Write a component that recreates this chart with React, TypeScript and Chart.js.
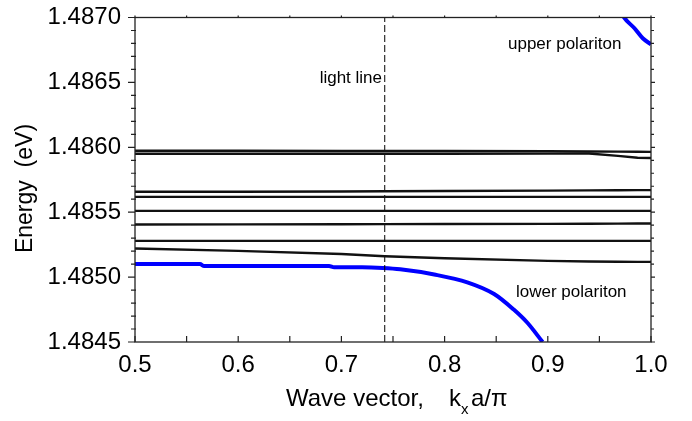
import React, { useEffect, useRef } from "react";
import { Chart, registerables } from "chart.js";

Chart.register(...registerables);

// ---- data ----
const kLevels = [0.5, 0.6, 0.7, 0.742, 0.8, 0.9, 0.94, 0.968, 0.987, 1.0];
const level1 = [1.485973, 1.485973, 1.485972, 1.485972, 1.485971, 1.48597, 1.485968, 1.485967, 1.485966, 1.485965];
const level2 = [1.48595, 1.48595, 1.48595, 1.48595, 1.48595, 1.485951, 1.485952, 1.485934, 1.485919, 1.485917];
const level3 = [1.485657, 1.485658, 1.48566, 1.485661, 1.485663, 1.485666, 1.485668, 1.485669, 1.48567, 1.48567];
const level4 = [1.485618, 1.485618, 1.485618, 1.485618, 1.485618, 1.485618, 1.485618, 1.485618, 1.485618, 1.485618];
const level5 = [1.48551, 1.48551, 1.48551, 1.48551, 1.48551, 1.48551, 1.48551, 1.48551, 1.48551, 1.48551];
const level6 = [1.485405, 1.485406, 1.485407, 1.485408, 1.485409, 1.48541, 1.485411, 1.485412, 1.485413, 1.485413];
const level7 = [1.485279, 1.485279, 1.485279, 1.485279, 1.485279, 1.485279, 1.485279, 1.485279, 1.485279, 1.485279];
const level8 = [1.48522, 1.485202, 1.485178, 1.485161, 1.485145, 1.485125, 1.48512, 1.485118, 1.485117, 1.485117];

const kLower = [0.5, 0.563, 0.567, 0.688, 0.693, 0.72, 0.74, 0.757, 0.79, 0.822, 0.848, 0.867, 0.88, 0.895];
const eLower = [1.4851, 1.4851, 1.485085, 1.485085, 1.485075, 1.485075, 1.48507, 1.48506, 1.48502, 1.48496, 1.48487, 1.48475, 1.48465, 1.4845];

const kUpper = [0.966, 0.974, 0.984, 0.992, 1.0];
const eUpper = [1.48712, 1.487, 1.486917, 1.48684, 1.486793];

const lightLineK = 0.742;
const yRange = [1.4845, 1.487];
const xRange = [0.5, 1.0];

const FONT = "'Liberation Sans', Arial, sans-serif";

const pts = (xs: number[], ys: number[]) => xs.map((x, i) => ({ x, y: ys[i] }));

const decor = {
  id: "decor",
  afterDraw(chart: any) {
    const { ctx, chartArea: a, scales } = chart;
    const xs = scales.x;
    const ys = scales.y;
    ctx.save();
    // frame
    ctx.strokeStyle = "#222";
    ctx.lineWidth = 1.3;
    ctx.strokeRect(a.left, a.top, a.right - a.left, a.bottom - a.top);
    ctx.lineWidth = 1.2;
    // y ticks (every 0.0001)
    for (let i = 0; i <= 25; i++) {
      const v = yRange[0] + i * 0.0001;
      const y = ys.getPixelForValue(v);
      const major = i % 5 === 0;
      ctx.beginPath();
      if (major) {
        ctx.moveTo(a.left - 7, y);
        ctx.lineTo(a.left, y);
      } else {
        ctx.moveTo(a.left - 4, y);
        ctx.lineTo(a.left + 1, y);
      }
      ctx.moveTo(a.right, y);
      ctx.lineTo(a.right + (major ? 4 : 3), y);
      ctx.stroke();
    }
    // x ticks (every 0.05)
    for (let i = 0; i <= 10; i++) {
      const v = xRange[0] + i * 0.05;
      const x = xs.getPixelForValue(v);
      ctx.beginPath();
      ctx.moveTo(x, a.bottom);
      ctx.lineTo(x, a.bottom - 6);
      ctx.moveTo(x, a.top);
      ctx.lineTo(x, a.top - 2);
      ctx.stroke();
    }
    // titles
    ctx.fillStyle = "#000";
    ctx.textBaseline = "alphabetic";
    ctx.save();
    ctx.translate(32, 188.5);
    ctx.rotate(-Math.PI / 2);
    ctx.textAlign = "center";
    ctx.font = `23px ${FONT}`;
    ctx.fillText("Energy  (eV)", 0, 0);
    ctx.restore();

    ctx.textAlign = "left";
    ctx.font = `24px ${FONT}`;
    ctx.fillText("Wave vector,", 286, 406);
    ctx.fillText("k", 449, 406);
    ctx.font = `15px ${FONT}`;
    ctx.fillText("x", 461, 414);
    ctx.font = `24px ${FONT}`;
    ctx.fillText("a/\u03c0", 471, 406);

    // annotations
    ctx.font = `17px ${FONT}`;
    ctx.textBaseline = "middle";
    ctx.textAlign = "right";
    ctx.fillText("light line", 382, 78);
    ctx.textAlign = "left";
    ctx.fillText("upper polariton", 508, 44);
    ctx.fillText("lower polariton", 516, 292);
    ctx.restore();
  },
};

export default function App() {
  const ref = useRef<HTMLCanvasElement | null>(null);
  useEffect(() => {
    if (!ref.current) return;
    const black = (d: number[]) => ({
      data: pts(kLevels, d),
      borderColor: "#111",
      borderWidth: 2.4,
      pointRadius: 0,
      showLine: true,
      tension: 0,
    });
    const chart = new Chart(ref.current, {
      type: "scatter",
      data: {
        datasets: [
          black(level1),
          black(level2),
          black(level3),
          black(level4),
          black(level5),
          black(level6),
          black(level7),
          black(level8),
          {
            data: pts([lightLineK, lightLineK], yRange),
            borderColor: "#000",
            borderWidth: 1,
            borderDash: [7, 3],
            pointRadius: 0,
            showLine: true,
          },
          {
            data: pts(kLower, eLower),
            borderColor: "#0000ff",
            borderWidth: 4,
            pointRadius: 0,
            showLine: true,
            cubicInterpolationMode: "monotone",
          },
          {
            data: pts(kUpper, eUpper),
            borderColor: "#0000ff",
            borderWidth: 4,
            pointRadius: 0,
            showLine: true,
            cubicInterpolationMode: "monotone",
          },
        ] as any,
      },
      options: {
        responsive: false,
        animation: false,
        events: [],
        layout: { padding: { left: 0, top: 17.5, right: 41, bottom: 0 } },
        plugins: { legend: { display: false }, tooltip: { enabled: false } },
        scales: {
          x: {
            type: "linear",
            min: xRange[0],
            max: xRange[1],
            grid: { display: false },
            border: { display: false },
            ticks: {
              stepSize: 0.1,
              padding: 1,
              color: "#000",
              font: { family: FONT, size: 24 },
              callback: (v: any) => Number(v).toFixed(1),
            },
            afterFit: (s: any) => {
              s.height = 79;
              s.paddingLeft = 0;
              s.paddingRight = 0;
            },
          },
          y: {
            type: "linear",
            min: yRange[0],
            max: yRange[1],
            grid: { display: false },
            border: { display: false },
            ticks: {
              stepSize: 0.0005,
              padding: 6,
              color: "#000",
              font: { family: FONT, size: 24 },
              callback: (v: any) => Number(v).toFixed(4),
            },
            afterFit: (s: any) => {
              s.width = 135;
              s.paddingTop = 0;
              s.paddingBottom = 0;
            },
          },
        },
      } as any,
      plugins: [decor],
    });
    return () => chart.destroy();
  }, []);
  return (
    <div style={{ position: "absolute", left: 0, top: 0, width: 692, height: 421, background: "#fff" }}>
      <canvas ref={ref} width={692} height={421} style={{ width: 692, height: 421 }} />
    </div>
  );
}
